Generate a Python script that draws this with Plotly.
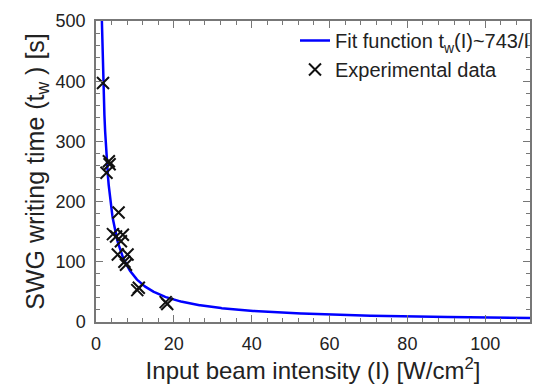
import numpy as np
import plotly.graph_objects as go

# Experimental data: input intensity I [W/cm^2] and writing time t_w [s]
intensity = [1.8, 2.7, 3.3, 3.5, 4.35, 5.15, 6.9, 5.8, 6.4, 5.6, 8.1, 7.3, 7.7, 10.6, 11.0, 17.9, 18.3]
write_time = [397, 248, 267, 262, 146, 142, 145, 182, 134, 112, 112, 100, 95, 53, 57, 33, 30]

# Fit t_w(I) = A / I
FIT_A = 743
x_max = 111.5
fit_x = np.linspace(FIT_A / 520, x_max, 600)
fit_y = FIT_A / fit_x

font_family = "Liberation Sans, Arial, sans-serif"

fig = go.Figure()
fig.add_trace(go.Scatter(
    x=fit_x, y=fit_y, mode="lines",
    line=dict(color="#0000ff", width=2.5),
    name="Fit function t<sub>w</sub>(I)~743/I",
))
fig.add_trace(go.Scatter(
    x=intensity, y=write_time, mode="markers",
    marker=dict(symbol="x-thin", size=12, line=dict(color="#111111", width=2)),
    name="Experimental data",
))

axis_common = dict(
    showline=True, linecolor="#777777", linewidth=1.5, mirror="ticks",
    ticks="inside", ticklen=7, tickcolor="#777777", tickwidth=1,
    showgrid=False, zeroline=False,
    tickfont=dict(family=font_family, size=18, color="#222222"),
)

fig.update_xaxes(
    range=[0, x_max], dtick=20, tick0=0, ticklabelstandoff=5,
    minor=dict(dtick=4, ticks="inside", ticklen=4, tickcolor="#777777"),
    title=dict(text="Input beam intensity (I) [W/cm<sup>2</sup>]",
               font=dict(family=font_family, size=24, color="#222222"), standoff=6),
    **axis_common,
)
fig.update_yaxes(
    range=[0, 500], dtick=100, tick0=0, ticklabelstandoff=5,
    minor=dict(dtick=20, ticks="inside", ticklen=4, tickcolor="#777777"),
    title=dict(text="SWG writing time (t<sub>w</sub> ) [s]",
               font=dict(family=font_family, size=25, color="#222222"), standoff=4),
    **axis_common,
)

fig.update_layout(
    width=535, height=389,
    margin=dict(l=96, r=0, t=21, b=67),
    plot_bgcolor="white", paper_bgcolor="white",
    legend=dict(x=1.012, y=1, xanchor="right", yanchor="top",
                font=dict(family=font_family, size=20, color="#222222"),
                bgcolor="rgba(255,255,255,0)", itemwidth=30),
    showlegend=True,
)

fig.write_html("out.html")
